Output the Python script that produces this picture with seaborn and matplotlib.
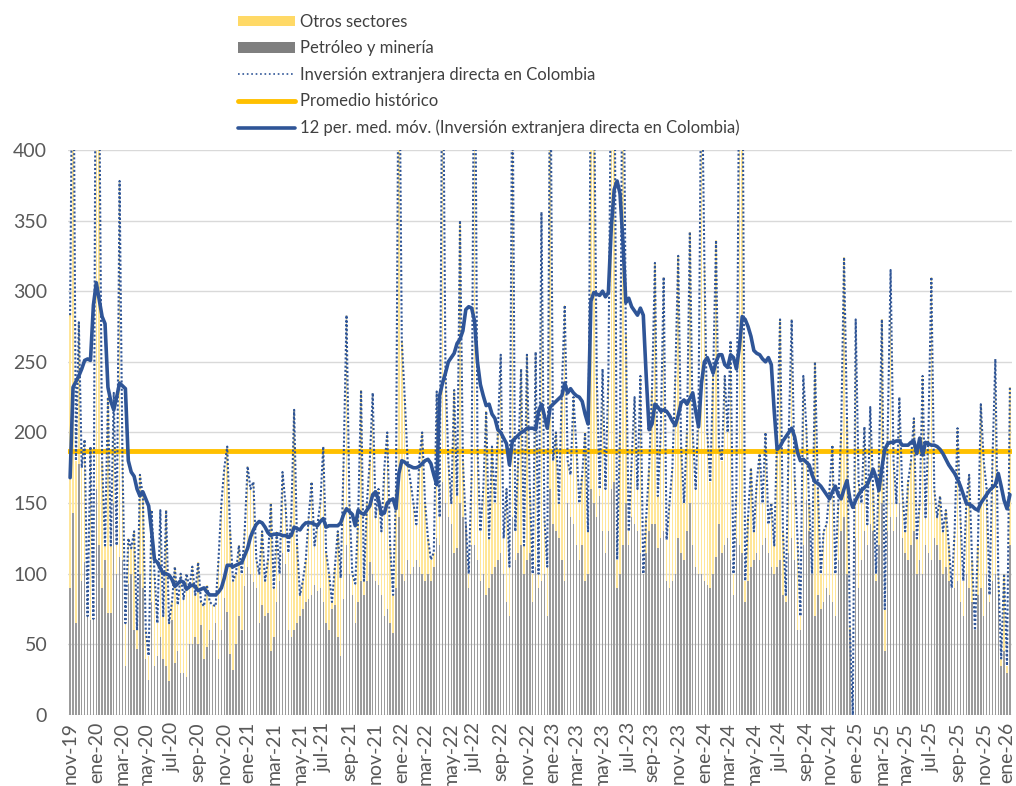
import matplotlib
matplotlib.use("Agg")
import matplotlib.pyplot as plt
import numpy as np
import pandas as pd
import seaborn as sns
from matplotlib.patches import Patch
from matplotlib.lines import Line2D

# weekly series, starting 2019-11-01 (USD millones)
inversion_total = [
    283, 540, 180, 278, 175,        # nov-19
    195, 70, 190, 68,               # dic-19
    600, 450, 180, 120, 225,        # ene-20
    120, 228, 120, 378,             # feb-20
    180, 65, 125, 118,              # mar-20
    130, 60, 170, 155,              # abr-20
    60, 42, 145, 100, 65,           # may-20
    145, 70, 145, 65,               # jun-20
    80, 105, 78, 100, 82,           # jul-20
    100, 90, 105, 85,               # ago-20
    108, 80, 77, 92,                # sep-20
    80, 78, 77, 110, 150,           # oct-20
    175, 190, 130, 95,              # nov-20
    100, 120, 100, 130,             # dic-20
    176, 160, 165, 110, 100,        # ene-21
    130, 95, 110, 150,              # feb-21
    90, 130, 100, 172,              # mar-21
    150, 115, 140, 216, 120,        # abr-21
    85, 95, 110, 140,               # may-21
    165, 120, 135, 150,             # jun-21
    190, 115, 100, 80, 105,         # jul-21
    130, 97, 180, 283,              # ago-21
    150, 100, 93, 140,              # sep-21
    230, 95, 150, 180, 228,         # oct-21
    140, 160, 130, 175,             # nov-21
    200, 120, 85, 160, 520,         # dic-21
    265, 225, 180, 165,             # ene-22
    150, 135, 180, 200,             # feb-22
    150, 125, 110, 115,             # mar-22
    229, 140, 520, 245, 180,        # abr-22
    150, 230, 155, 350,             # may-22
    180, 135, 100, 170,             # jun-22
    560, 190, 130, 160, 215,        # jul-22
    125, 190, 150, 200,             # ago-22
    255, 125, 160, 105, 480,        # sep-22
    130, 180, 245, 120,             # oct-22
    255, 160, 100, 257,             # nov-22
    100, 356, 140, 105, 500,        # dic-22
    180, 200, 150, 230,             # ene-23
    290, 180, 170, 225,             # feb-23
    190, 150, 170, 200, 130,        # mar-23
    480, 460, 240, 160,             # abr-23
    245, 160, 240, 480,             # may-23
    520, 110, 200, 540, 270,        # jun-23
    130, 180, 225, 160,             # jul-23
    240, 100, 140, 175,             # ago-23
    230, 320, 155, 200, 310,        # sep-23
    124, 150, 175, 240,             # oct-23
    325, 190, 150, 200,             # nov-23
    342, 200, 160, 220, 480,        # dic-23
    320, 200, 165, 240,             # ene-24
    336, 190, 180, 240,             # feb-24
    200, 265, 100, 160, 480,        # mar-24
    520, 95, 140, 175,              # abr-24
    130, 165, 185, 150, 200,        # may-24
    135, 150, 120, 200,             # jun-24
    280, 130, 85, 200,              # jul-24
    280, 170, 125, 70, 240,         # ago-24
    205, 150, 100, 250,             # sep-24
    160, 100, 130, 135,             # oct-24
    160, 191, 100, 150, 200,        # nov-24
    324, 210, 62, 0,                # dic-24
    280, 165, 150, 204, 135,        # ene-25
    218, 160, 100, 180,             # feb-25
    280, 75, 200, 315,              # mar-25
    180, 150, 225, 160,             # abr-25
    130, 165, 180, 210, 125,        # may-25
    150, 240, 140, 200,             # jun-25
    310, 160, 140, 155,             # jul-25
    130, 145, 120, 90, 130,         # ago-25
    203, 140, 95, 150,              # sep-25
    170, 110, 60, 120, 220,         # oct-25
    180, 160, 85, 180,              # nov-25
    252, 100, 40, 100,              # dic-25
    35, 232,                        # ene-26
]

petroleo_mineria = [
    90, 143, 65, 178, 95,
    108, 70, 67, 67,
    160, 120, 90, 110, 72,
    72, 150, 100, 112,
    110, 35, 93, 100,
    60, 47, 100, 90,
    40, 25, 80, 35, 42,
    55, 40, 35, 24,
    67, 37, 45, 30, 30,
    27, 50, 50, 55,
    50, 64, 40, 48,
    60, 53, 65, 40, 60,
    83, 73, 43, 32,
    50, 70, 60, 91,
    105, 100, 94, 90, 65,
    78, 70, 72, 45,
    55, 80, 95, 115,
    107, 60, 55, 60, 65,
    70, 75, 80, 82,
    85, 92, 88, 90,
    80, 65, 60, 75, 78,
    55, 42, 82, 120,
    100, 85, 65, 80,
    95, 85, 95, 108, 100,
    95, 92, 85, 70,
    75, 65, 58, 90, 140,
    100, 95, 110, 100,
    105, 110, 105, 100,
    95, 100, 95, 105,
    125, 120, 165, 150, 140,
    135, 115, 118, 150,
    140, 135, 90, 120,
    120, 110, 95, 100, 85,
    90, 100, 105, 110,
    115, 100, 80, 70, 140,
    110, 115, 120, 100,
    110, 115, 80, 105,
    90, 95, 100, 70, 160,
    135, 130, 125, 110,
    95, 150, 140, 135,
    120, 110, 120, 95, 100,
    160, 150, 140, 155,
    130, 115, 130, 160,
    165, 90, 100, 120, 150,
    120, 140, 135, 130,
    115, 100, 115, 130,
    135, 135, 118, 125, 130,
    95, 90, 95, 100,
    125, 115, 110, 130,
    150, 120, 105, 100, 100,
    95, 92, 90, 100,
    112, 135, 115, 120,
    125, 110, 85, 125, 120,
    115, 80, 95, 105,
    110, 115, 110, 120, 125,
    115, 105, 100, 105,
    110, 85, 80, 115,
    125, 110, 60, 60, 120,
    152, 130, 100, 70,
    85, 75, 80, 90,
    85, 80, 70, 110, 130,
    140, 100, 60, 0,
    125, 90, 110, 130, 120,
    135, 130, 95, 120,
    150, 45, 130, 140,
    130, 140, 150, 125,
    115, 110, 120, 130, 100,
    110, 100, 120, 115,
    110, 125, 120, 110,
    100, 105, 95, 90, 90,
    95, 80, 70, 100,
    90, 80, 60, 85, 90,
    70, 100, 80, 95,
    100, 85, 35, 45,
    30, 120,
]

# 12 periodos media movil
media_movil = [
    168, 232, 236, 240, 245, 251, 252, 251, 290, 306,
    294, 282, 277, 232, 222, 216, 225, 235, 233, 231,
    180, 172, 169, 160, 155, 158, 153, 148, 130, 110,
    108, 104, 100, 100, 99, 96, 91, 93, 95, 94,
    89, 91, 92, 91, 88, 89, 90, 87, 85, 85,
    85, 87, 90, 97, 106, 106, 105, 106, 107, 108,
    113, 118, 126, 131, 135, 137,
    136, 133, 129, 127, 128, 128, 128, 127, 127, 126,
    127, 133, 132, 131, 134, 136, 136, 136, 135, 134,
    137, 139, 133, 134, 134, 134, 134, 136, 142, 146,
    144, 142, 134, 145, 143, 142, 145, 148, 156, 158,
    152, 142, 143, 150, 152, 153, 146, 171, 180, 179,
    177, 176, 175, 175, 176, 178, 180, 181,
    178, 170, 163, 226, 235, 242, 250, 253, 256, 263,
    266, 272, 287, 289, 288, 279, 250, 234, 226, 219,
    220, 213, 210, 202, 200, 196, 192, 177, 194, 196,
    198, 200, 201, 203, 203, 203, 202, 215, 220, 212,
    203, 218, 220, 222, 224, 226, 235, 228, 231, 228,
    226, 225, 222, 213, 206, 293, 299, 298, 297, 300,
    296, 299, 345, 372, 378, 369, 335, 292, 295, 289,
    286, 283, 288, 283, 240, 202, 206, 220, 218, 215,
    216, 215, 212, 208, 205, 212, 221, 223, 220, 224,
    228, 215, 204, 235, 250, 253, 248, 242, 250, 255,
    255, 248, 246, 255, 253, 245, 260, 282, 280, 275,
    268, 258, 256, 255, 252, 250, 253, 248, 215, 188,
    190, 194, 197, 200, 203, 197, 186, 180, 181, 179,
    177, 170, 165, 164, 162, 159, 156, 153, 158, 162,
    156, 153, 160, 166, 153, 147, 152, 156, 159, 161,
    163, 168, 174, 168, 159, 175, 188, 192, 193, 193,
    194, 194, 191, 191, 191, 193, 194, 185, 196, 184,
    193, 192, 191, 191, 190, 188, 185, 181, 177, 174,
    171, 167, 162, 156, 150, 149, 148, 146, 145, 150,
    153, 156, 159, 161, 163, 171, 162, 152, 146, 156,
]

promedio_historico = 187
meses = ["ene", "feb", "mar", "abr", "may", "jun",
         "jul", "ago", "sep", "oct", "nov", "dic"]

C_OTROS = "#FFD966"
C_PETRO = "#7F7F7F"
C_OTROS_BAR = "#FFE699"
C_PETRO_BAR = "#9B9B9B"
C_BLUE = "#2F5597"
C_ORANGE = "#FFC000"

df = pd.DataFrame({
    "fecha": pd.date_range("2019-11-01", periods=len(inversion_total), freq="7D"),
    "total": inversion_total,
    "petroleo": petroleo_mineria,
    "mm12": media_movil,
})
df["otros"] = df["total"] - df["petroleo"]
df["pos"] = np.arange(len(df))

sns.set_theme(style="white")
plt.rcParams["font.family"] = ["Lato", "DejaVu Sans"]

fig = plt.figure(figsize=(10.16, 7.86), dpi=100)
ax = fig.add_axes([0.067, 0.0903, 0.929, 0.719])

# stacked bars: full height in yellow, petroleo drawn over the lower part
sns.barplot(data=df, x="pos", y="total", native_scale=True, width=0.5,
            color=C_OTROS_BAR, saturation=1, linewidth=0, errorbar=None, ax=ax)
sns.barplot(data=df, x="pos", y="petroleo", native_scale=True, width=0.5,
            color=C_PETRO_BAR, saturation=1, linewidth=0, errorbar=None, ax=ax)

ax.axhline(promedio_historico, color=C_ORANGE, lw=3.5, zorder=3)
sns.lineplot(data=df, x="pos", y="total", color=C_BLUE, lw=1.5,
             linestyle=(0, (1, 1)), ax=ax, zorder=4)
sns.lineplot(data=df, x="pos", y="mm12", color=C_BLUE, lw=2.6, ax=ax, zorder=5)

ax.set_ylim(0, 400)
ax.set_xlim(-0.7, len(df) - 0.3)
ax.set_yticks(range(0, 401, 50))
ax.yaxis.grid(True, color="#D9D9D9", lw=1)
ax.set_axisbelow(True)
for s in ax.spines.values():
    s.set_visible(False)

# tick every two months, starting nov-19
tick_pos, tick_lab = [], []
for (y, m), g in df.groupby([df["fecha"].dt.year, df["fecha"].dt.month]):
    if m % 2 == 1:
        tick_pos.append(g["pos"].iloc[0])
        tick_lab.append(f"{meses[m - 1]}-{str(y)[2:]}")
ax.set_xticks(tick_pos)
ax.set_xticklabels(tick_lab, rotation=90)
ax.tick_params(axis="both", labelsize=14, colors="#595959", length=0)
ax.tick_params(axis="y", pad=15)
ax.tick_params(axis="x", pad=5)
ax.set_xlabel("")
ax.set_ylabel("")

handles = [
    Patch(facecolor=C_OTROS, edgecolor="none"),
    Patch(facecolor=C_PETRO, edgecolor="none"),
    Line2D([], [], color=C_BLUE, lw=1.2, linestyle=":"),
    Line2D([], [], color=C_ORANGE, lw=3.5),
    Line2D([], [], color=C_BLUE, lw=2.6),
]
labels = [
    "Otros sectores",
    "Petróleo y minería",
    "Inversión extranjera directa en Colombia",
    "Promedio histórico",
    "12 per. med. móv. (Inversión extranjera directa en Colombia)",
]
fig.legend(handles, labels, loc="upper left", bbox_to_anchor=(0.228, 0.991),
           frameon=False, fontsize=12, handlelength=3.4, handleheight=0.6,
           handletextpad=0.3, labelspacing=0.63, borderaxespad=0,
           labelcolor="#404040")

fig.savefig("out.png", dpi=100)
